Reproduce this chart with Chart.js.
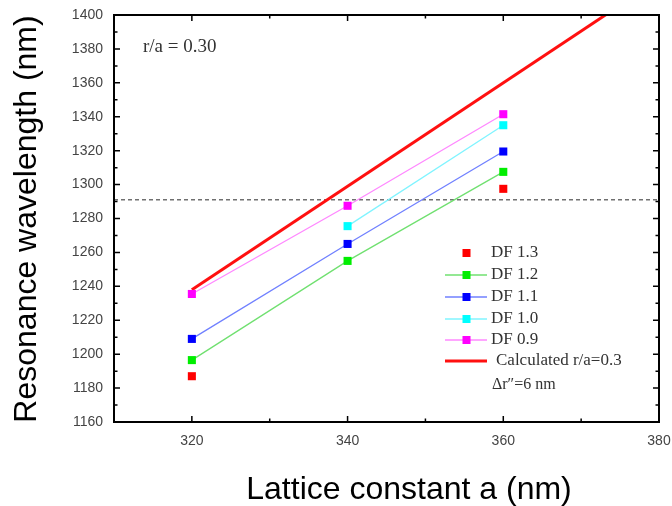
<!DOCTYPE html>
<html>
<head>
<meta charset="utf-8">
<script src="https://cdn.jsdelivr.net/npm/chart.js@4.4.0/dist/chart.umd.min.js"></script>
<style>
  html, body { margin: 0; padding: 0; background: #fff; }
  #wrap { width: 672px; height: 506px; }
</style>
</head>
<body>
<div id="wrap"><canvas id="chart" width="672" height="506"></canvas></div>
<script>
// lattice constant a (nm)
let lattice = [320, 340, 360];
let df13 = [1187, null, 1297.5];
let df12 = [1196.5, 1255, 1307.5];
let df11 = [1209, 1265, 1319.5];
let df10 = [null, 1275.5, 1335];
let df09 = [1235.5, 1287.5, 1341.5];
// calculated r/a = 0.3 line
let calcX = [320, 380];
let calcY = [1238, 1421];
// dashed reference at 1291 nm
let refX = [310, 380];
let refY = [1291, 1291];
let xTicks = [320, 340, 360, 380];

function pts(xs, ys) {
    return xs.map((x, i) => ({ x: x, y: ys[i] }));
}

function dfSet(label, ys, marker, line, showLine) {
    return {
        label: label,
        data: pts(lattice, ys),
        showLine: showLine,
        spanGaps: false,
        borderColor: line,
        borderWidth: 1.3,
        backgroundColor: marker,
        pointStyle: 'rect',
        pointRadius: 5.7,
        pointBorderWidth: 0,
        pointBorderColor: marker,
        pointBackgroundColor: marker
    };
}

const frame = {
    id: 'frame',
    afterDatasetsDraw(chart) {
        const ctx = chart.ctx;
        const a = chart.chartArea;
        const xs = chart.scales.x, ys = chart.scales.y;
        ctx.save();
        ctx.strokeStyle = '#000';
        ctx.lineWidth = 1.5;
        // inward ticks on all four sides
        for (let v = 310; v <= 380; v += 10) {
            let px = xs.getPixelForValue(v);
            let len = v % 20 === 0 ? 6 : 3.5;
            ctx.beginPath();
            ctx.moveTo(px, a.bottom); ctx.lineTo(px, a.bottom - len);
            ctx.moveTo(px, a.top); ctx.lineTo(px, a.top + len);
            ctx.stroke();
        }
        for (let v = 1160; v <= 1400; v += 10) {
            let py = ys.getPixelForValue(v);
            let len = v % 20 === 0 ? 6 : 3.5;
            ctx.beginPath();
            ctx.moveTo(a.left, py); ctx.lineTo(a.left + len, py);
            ctx.moveTo(a.right, py); ctx.lineTo(a.right - len, py);
            ctx.stroke();
        }
        ctx.lineWidth = 2;
        ctx.strokeRect(a.left, a.top, a.right - a.left, a.bottom - a.top);

        // annotation
        ctx.fillStyle = '#333';
        ctx.font = '19px "Liberation Serif"';
        ctx.textBaseline = 'middle';
        ctx.textAlign = 'left';
        ctx.fillText('r/a = 0.30', 143, 47);

        // legend
        const rows = [253, 275, 297, 319, 340];
        ctx.font = '17px "Liberation Serif"';
        for (let i = 0; i < 5; i++) {
            let ds = chart.data.datasets[i];
            let y = rows[i];
            if (ds.showLine) {
                ctx.strokeStyle = ds.borderColor;
                ctx.lineWidth = 1.3;
                ctx.beginPath();
                ctx.moveTo(445, y); ctx.lineTo(487, y);
                ctx.stroke();
            }
            ctx.fillStyle = ds.pointBackgroundColor;
            ctx.fillRect(462.5, y - 4, 8, 8);
            ctx.fillStyle = '#333';
            ctx.fillText(ds.label, 491, y);
        }
        let calc = chart.data.datasets[5];
        ctx.strokeStyle = calc.borderColor;
        ctx.lineWidth = 3;
        ctx.beginPath();
        ctx.moveTo(445, 361); ctx.lineTo(487, 361);
        ctx.stroke();
        ctx.fillStyle = '#333';
        ctx.fillText(calc.label, 496, 361);
        ctx.font = '16px "Liberation Serif"';
        ctx.fillText('\u0394r\u2033=6 nm', 492, 385);

        // axis titles
        ctx.fillStyle = '#000';
        ctx.font = '32px "Liberation Sans"';
        ctx.textAlign = 'center';
        ctx.fillText('Lattice constant a (nm)', 409, 490);
        ctx.translate(27, 219);
        ctx.rotate(-Math.PI / 2);
        ctx.fillText('Resonance wavelength (nm)', 0, 0);
        ctx.restore();
    }
};

new Chart(document.getElementById('chart'), {
    type: 'scatter',
    data: {
        datasets: [
            dfSet('DF 1.3', df13, '#ff0000', '#ff0000', false),
            dfSet('DF 1.2', df12, '#00ee00', '#70e070', true),
            dfSet('DF 1.1', df11, '#0000ff', '#7080ff', true),
            dfSet('DF 1.0', df10, '#00ffff', '#80f4ff', true),
            dfSet('DF 0.9', df09, '#ff00ff', '#ff88ff', true),
            {
                label: 'Calculated r/a=0.3',
                data: pts(calcX, calcY),
                showLine: true,
                borderColor: '#ff1010',
                borderWidth: 3,
                pointRadius: 0
            },
            {
                label: 'ref',
                data: pts(refX, refY),
                showLine: true,
                borderColor: '#707070',
                borderWidth: 1.5,
                borderDash: [4, 3],
                pointRadius: 0
            }
        ]
    },
    options: {
        responsive: false,
        animation: false,
        layout: { padding: { left: 0, right: 13, top: 15, bottom: 0 } },
        plugins: { legend: { display: false }, tooltip: { enabled: false } },
        scales: {
            x: {
                type: 'linear',
                min: 310,
                max: 380,
                grid: { display: false, drawTicks: false },
                border: { display: false },
                afterBuildTicks: s => { s.ticks = xTicks.map(v => ({ value: v })); },
                afterFit: s => { s.height = 84; s.paddingLeft = 0; s.paddingRight = 0; },
                ticks: {
                    padding: 11,
                    color: '#444',
                    font: { family: 'Liberation Sans', size: 14 },
                    callback: v => String(v)
                }
            },
            y: {
                min: 1160,
                max: 1400,
                grid: { display: false, drawTicks: false },
                border: { display: false },
                afterFit: s => { s.width = 114; s.paddingTop = 0; s.paddingBottom = 0; },
                ticks: {
                    stepSize: 20,
                    padding: 11,
                    color: '#444',
                    font: { family: 'Liberation Sans', size: 14 },
                    callback: v => String(v)
                }
            }
        }
    },
    plugins: [frame]
});
</script>
</body>
</html>
